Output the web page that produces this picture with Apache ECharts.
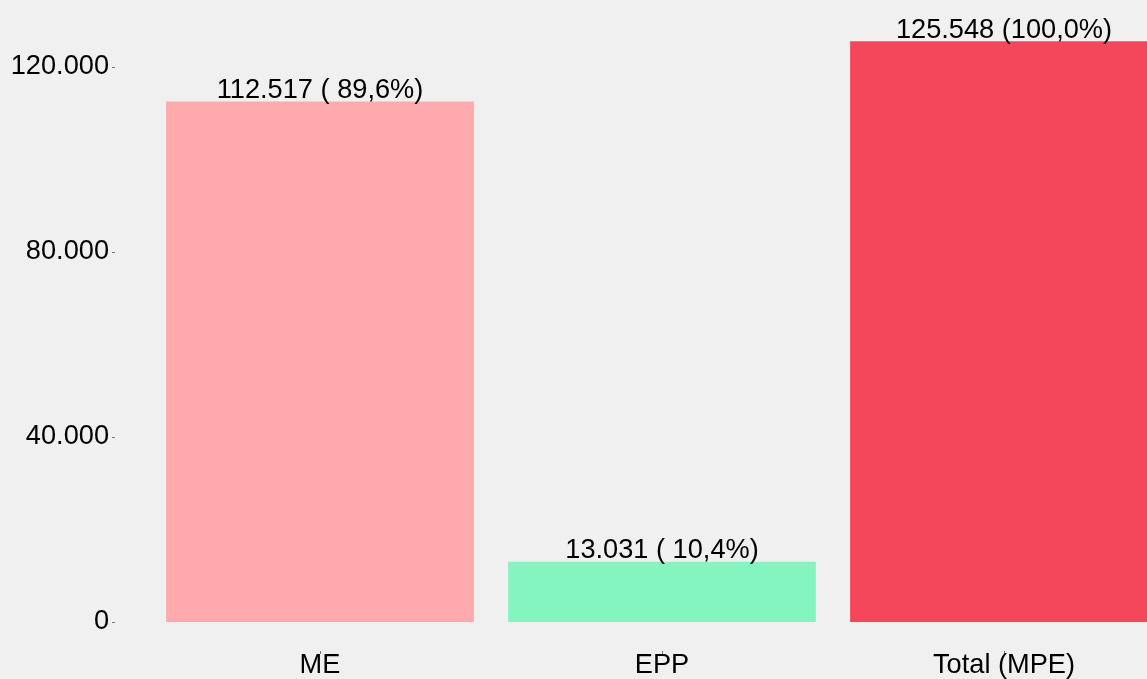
<!DOCTYPE html>
<html>
<head>
<meta charset="utf-8">
<script src="https://cdn.jsdelivr.net/npm/echarts@6/dist/echarts.min.js"></script>
<style>
html,body{margin:0;padding:0;background:#f0f0f0;}
#chart{width:1147px;height:679px;}
</style>
</head>
<body>
<div id="chart"></div>
<script>
const categories = ['ME', 'EPP', 'Total (MPE)'];
const values = [112517, 13031, 125548];
const barColors = ['#FFAAAD', '#85F5C0', '#F5475C'];
const yTicks = [0, 40000, 80000, 120000];

const total = values[2];
function fmtThousands(v) {
  return String(Math.round(v)).replace(/\B(?=(\d{3})+(?!\d))/g, '.');
}
function fmtPct(v) {
  let s = (v / total * 100).toFixed(1).replace('.', ',');
  while (s.length < 5) s = ' ' + s;
  return s;
}

const FONT = 'Liberation Sans, Arial, sans-serif';
const FS = 27.2;
const chart = echarts.init(document.getElementById('chart'));
chart.setOption({
  backgroundColor: '#f0f0f0',
  animation: false,
  grid: { left: 149, width: 1026, top: 2.25, height: 648.75, outerBoundsMode: 'none', containLabel: false },
  xAxis: {
    type: 'category',
    data: categories,
    axisLine: { show: false, onZero: false },
    axisTick: { show: true, length: 3, alignWithLabel: true, lineStyle: { color: '#777', width: 1 } },
    axisLabel: { color: '#000', fontSize: FS, fontFamily: FONT, margin: 1 },
    splitLine: { show: false }
  },
  yAxis: {
    type: 'value',
    min: -6270,
    max: 134000,
    offset: 34,
    axisLine: { show: false },
    axisTick: { show: true, length: 3, customValues: yTicks, lineStyle: { color: '#777', width: 1 } },
    axisLabel: {
      customValues: yTicks,
      color: '#000', fontSize: FS, fontFamily: FONT, margin: 6,
      formatter: v => fmtThousands(v)
    },
    splitLine: { show: false }
  },
  series: [{
    type: 'bar',
    barWidth: '90%',
    data: values.map((v, i) => ({ value: v, itemStyle: { color: barColors[i] } })),
    label: {
      show: true,
      position: 'top',
      distance: -2.5,
      color: '#000',
      fontSize: FS,
      fontFamily: FONT,
      formatter: p => fmtThousands(p.value) + ' (' + fmtPct(p.value) + '%)'
    }
  }]
});
</script>
</body>
</html>
